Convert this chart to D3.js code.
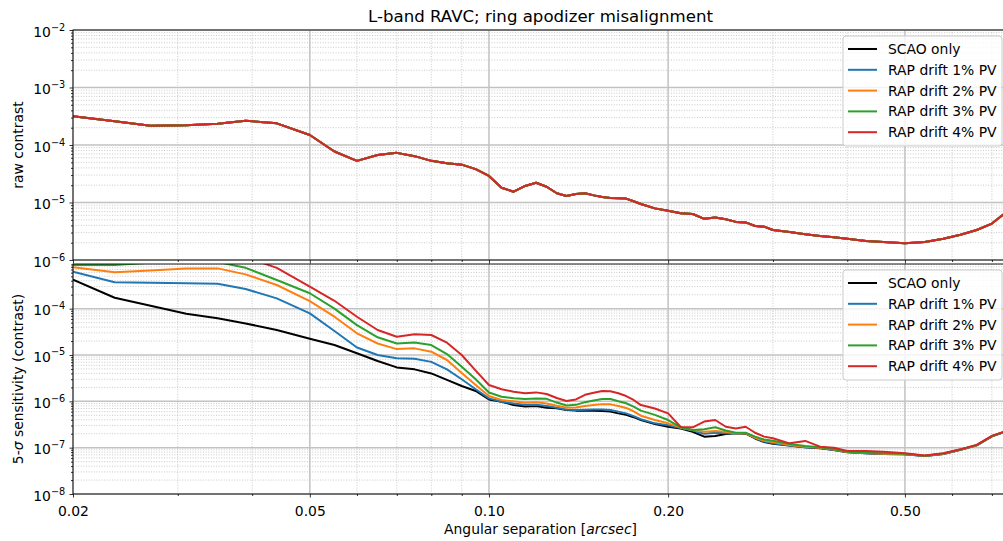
<!DOCTYPE html>
<html>
<head>
<meta charset="utf-8">
<script src="https://cdn.jsdelivr.net/npm/d3@7"></script>
<style>
  body { margin: 0; background: #fff; }
  svg { display: block; font-family: "DejaVu Sans", sans-serif; }
</style>
</head>
<body>
<svg id="chart" width="1003" height="541"></svg>
<script>
// Angular separation grid [arcsec]
const separation = [
  0.020, 0.0235, 0.027, 0.031, 0.035, 0.039, 0.044,
  0.050, 0.055, 0.060, 0.065, 0.070, 0.075, 0.080, 0.085, 0.090, 0.095,
  0.100, 0.105, 0.110, 0.115, 0.120, 0.125, 0.130, 0.135, 0.140, 0.145,
  0.150, 0.155, 0.160, 0.165, 0.170, 0.175, 0.180, 0.190, 0.200,
  0.210, 0.220, 0.230, 0.240, 0.250, 0.260, 0.270, 0.280, 0.290, 0.300,
  0.320, 0.340, 0.360, 0.380, 0.400, 0.430, 0.460,
  0.500, 0.540, 0.580, 0.620, 0.660, 0.700, 0.740
];

// Raw coronagraphic contrast (identical for every configuration)
const rawContrast = [
  3.15e-4, 2.6e-4, 2.17e-4, 2.2e-4, 2.34e-4, 2.65e-4, 2.38e-4,
  1.49e-4, 7.7e-5, 5.3e-5, 6.7e-5, 7.3e-5, 6.4e-5, 5.3e-5, 4.8e-5, 4.55e-5, 3.8e-5,
  2.9e-5, 1.81e-5, 1.54e-5, 1.94e-5, 2.21e-5, 1.88e-5, 1.45e-5, 1.30e-5, 1.41e-5, 1.45e-5,
  1.33e-5, 1.25e-5, 1.20e-5, 1.19e-5, 1.17e-5, 1.05e-5, 9.4e-6, 7.9e-6, 7.2e-6,
  6.5e-6, 6.3e-6, 5.2e-6, 5.5e-6, 5.1e-6, 4.6e-6, 4.5e-6, 3.9e-6, 3.8e-6, 3.33e-6,
  3.07e-6, 2.8e-6, 2.61e-6, 2.48e-6, 2.34e-6, 2.14e-6, 2.05e-6,
  1.95e-6, 2.05e-6, 2.34e-6, 2.75e-6, 3.33e-6, 4.3e-6, 6.8e-6
];

// 5-sigma sensitivity per configuration
const sensScao = [
  4.2e-4, 1.72e-4, 1.16e-4, 7.8e-5, 6.2e-5, 4.8e-5, 3.46e-5,
  2.25e-5, 1.64e-5, 1.09e-5, 7.4e-6, 5.4e-6, 4.9e-6, 4.0e-6, 2.9e-6, 2.14e-6, 1.67e-6,
  1.1e-6, 9.8e-7, 8.3e-7, 7.7e-7, 7.9e-7, 7.3e-7, 7.1e-7, 6.5e-7, 6.3e-7, 6.3e-7,
  6.3e-7, 6.2e-7, 6.0e-7, 5.5e-7, 5.1e-7, 4.55e-7, 3.95e-7, 3.25e-7, 2.83e-7,
  2.6e-7, 2.2e-7, 1.73e-7, 1.78e-7, 1.97e-7, 2.04e-7, 2.0e-7, 1.58e-7, 1.32e-7, 1.22e-7,
  1.12e-7, 1.02e-7, 9.7e-8, 8.9e-8, 8.0e-8, 7.55e-8, 7.3e-8,
  7.2e-8, 6.6e-8, 7.3e-8, 9.0e-8, 1.12e-7, 1.75e-7, 2.25e-7
];
const sensDrift1 = [
  6.3e-4, 3.7e-4, 3.63e-4, 3.55e-4, 3.45e-4, 2.65e-4, 1.67e-4,
  7.9e-5, 3.3e-5, 1.45e-5, 1.0e-5, 8.5e-6, 8.3e-6, 7.1e-6, 4.9e-6, 3.0e-6, 1.82e-6,
  1.16e-6, 9.8e-7, 9.0e-7, 8.3e-7, 8.4e-7, 7.9e-7, 7.3e-7, 6.6e-7, 6.5e-7, 6.6e-7,
  6.7e-7, 6.7e-7, 6.5e-7, 6.0e-7, 5.5e-7, 4.8e-7, 4.1e-7, 3.35e-7, 3.05e-7,
  2.65e-7, 2.35e-7, 2.0e-7, 2.1e-7, 2.04e-7, 2.04e-7, 2.04e-7, 1.6e-7, 1.35e-7, 1.24e-7,
  1.12e-7, 1.02e-7, 9.9e-8, 8.9e-8, 8.1e-8, 7.55e-8, 7.3e-8,
  7.2e-8, 6.6e-8, 7.3e-8, 9.0e-8, 1.12e-7, 1.75e-7, 2.25e-7
];
const sensDrift2 = [
  7.8e-4, 6.1e-4, 6.7e-4, 7.4e-4, 7.4e-4, 5.5e-4, 3.24e-4,
  1.45e-4, 6.7e-5, 2.94e-5, 1.77e-5, 1.34e-5, 1.39e-5, 1.18e-5, 7.8e-6, 4.1e-6, 2.25e-6,
  1.3e-6, 1.07e-6, 1.0e-6, 9.3e-7, 9.6e-7, 9.0e-7, 8.0e-7, 7.3e-7, 7.4e-7, 7.9e-7,
  8.3e-7, 8.7e-7, 8.6e-7, 7.9e-7, 7.2e-7, 6.1e-7, 4.9e-7, 3.95e-7, 3.35e-7,
  2.7e-7, 2.4e-7, 2.2e-7, 2.3e-7, 2.2e-7, 2.04e-7, 2.04e-7, 1.65e-7, 1.41e-7, 1.32e-7,
  1.14e-7, 1.05e-7, 9.9e-8, 9.1e-8, 8.1e-8, 7.7e-8, 7.4e-8,
  7.3e-8, 6.7e-8, 7.4e-8, 9.1e-8, 1.13e-7, 1.77e-7, 2.27e-7
];
const sensDrift3 = [
  8.8e-4, 8.8e-4, 9.8e-4, 1.05e-3, 1.02e-3, 7.6e-4, 4.15e-4,
  2.15e-4, 1.0e-4, 4.4e-5, 2.41e-5, 1.77e-5, 1.85e-5, 1.64e-5, 1.05e-5, 5.6e-6, 3.0e-6,
  1.55e-6, 1.26e-6, 1.16e-6, 1.12e-6, 1.15e-6, 1.13e-6, 9.4e-7, 8.1e-7, 8.4e-7, 9.6e-7,
  1.04e-6, 1.12e-6, 1.12e-6, 1.0e-6, 9.1e-7, 7.7e-7, 6.3e-7, 5.1e-7, 3.95e-7,
  2.75e-7, 2.4e-7, 2.5e-7, 2.75e-7, 2.35e-7, 2.1e-7, 2.1e-7, 1.73e-7, 1.5e-7, 1.41e-7,
  1.2e-7, 1.09e-7, 1.02e-7, 9.2e-8, 8.2e-8, 7.8e-8, 7.55e-8,
  7.4e-8, 6.7e-8, 7.45e-8, 9.1e-8, 1.14e-7, 1.78e-7, 2.28e-7
];
const sensDrift4 = [
  2.0e-3, 2.0e-3, 2.0e-3, 2.0e-3, 1.8e-3, 1.3e-3, 7.6e-4,
  3.0e-4, 1.48e-4, 6.7e-5, 3.46e-5, 2.48e-5, 2.79e-5, 2.7e-5, 1.84e-5, 1.0e-5, 4.6e-6,
  2.25e-6, 1.82e-6, 1.61e-6, 1.49e-6, 1.56e-6, 1.44e-6, 1.18e-6, 1.02e-6, 1.1e-6, 1.38e-6,
  1.53e-6, 1.67e-6, 1.65e-6, 1.49e-6, 1.3e-6, 1.07e-6, 8.3e-7, 7.0e-7, 5.5e-7,
  2.8e-7, 2.75e-7, 3.65e-7, 3.95e-7, 2.83e-7, 2.6e-7, 2.83e-7, 2.1e-7, 1.73e-7, 1.6e-7,
  1.24e-7, 1.4e-7, 1.05e-7, 1.0e-7, 8.5e-8, 8.5e-8, 8.2e-8,
  7.55e-8, 6.8e-8, 7.55e-8, 9.2e-8, 1.15e-7, 1.8e-7, 2.3e-7
];

const seriesNames = ["SCAO only", "RAP drift 1% PV", "RAP drift 2% PV", "RAP drift 3% PV", "RAP drift 4% PV"];
const seriesColors = ["#000000", "#1f77b4", "#ff7f0e", "#2ca02c", "#d62728"];
const rawSeries = [rawContrast, rawContrast, rawContrast, rawContrast, rawContrast];
const sensSeries = [sensScao, sensDrift1, sensDrift2, sensDrift3, sensDrift4];

const xTickValues = [0.02, 0.05, 0.1, 0.2, 0.5];
const xTickLabels = ["0.02", "0.05", "0.10", "0.20", "0.50"];
const rawTickExps = [-6, -5, -4, -3, -2];
const sensTickExps = [-8, -7, -6, -5, -4];

const titleText = "L-band RAVC; ring apodizer misalignment";

// ---------------------------------------------------------------------------
const svg = d3.select("#chart");
const plotLeft = 73, plotRight = 1008;
const FS = 13.9;

const x = d3.scaleLog().domain([0.02, 0.745]).range([plotLeft, plotRight]);
const yRaw = d3.scaleLog().domain([1e-6, 1e-2]).range([260, 30]);
const ySens = d3.scaleLog().domain([1e-8, 9.2e-4]).range([494, 264]);

const isClose = (a, b) => Math.abs(a / b - 1) < 1e-6;

function minorValues(lo, hi, exclude) {
  const out = [];
  for (let e = Math.floor(Math.log10(lo)) - 1; e <= Math.ceil(Math.log10(hi)); e++) {
    for (let k = 2; k <= 9; k++) {
      const v = k * Math.pow(10, e);
      if (v > lo * 1.0001 && v < hi * 0.9999 && !exclude.some(t => isClose(t, v))) out.push(v);
    }
  }
  return out;
}

const xMinor = minorValues(0.02, 0.745, xTickValues);
const xMajorGrid = xTickValues;

function drawPanel(y, exps, series, showXLabels, clipId) {
  const [yb, yt] = y.range();
  const g = svg.append("g");
  const [lo, hi] = y.domain();

  // minor gridlines (dotted)
  const grid = g.append("g");
  const yMinor = minorValues(lo, hi, []);
  grid.selectAll(".ymin").data(yMinor).join("line")
    .attr("x1", plotLeft).attr("x2", plotRight)
    .attr("y1", d => y(d)).attr("y2", d => y(d))
    .attr("stroke", "#bdbdbd").attr("stroke-width", 0.8).attr("stroke-dasharray", "1,1.6");
  grid.selectAll(".xmin").data(xMinor).join("line")
    .attr("x1", d => x(d)).attr("x2", d => x(d))
    .attr("y1", yt).attr("y2", yb)
    .attr("stroke", "#bdbdbd").attr("stroke-width", 0.8).attr("stroke-dasharray", "1,1.6");

  // major gridlines (solid)
  const yMajor = d3.range(Math.ceil(Math.log10(lo)), Math.floor(Math.log10(hi)) + 1).map(e => Math.pow(10, e));
  grid.selectAll(".ymaj").data(yMajor).join("line")
    .attr("x1", plotLeft).attr("x2", plotRight)
    .attr("y1", d => y(d)).attr("y2", d => y(d))
    .attr("stroke", "#c2c2c2").attr("stroke-width", 1.5);
  grid.selectAll(".xmaj").data(xMajorGrid).join("line")
    .attr("x1", d => x(d)).attr("x2", d => x(d))
    .attr("y1", yt).attr("y2", yb)
    .attr("stroke", "#c2c2c2").attr("stroke-width", 1.5);

  // curves
  svg.append("clipPath").attr("id", clipId).append("rect")
    .attr("x", plotLeft).attr("y", yt).attr("width", plotRight - plotLeft).attr("height", yb - yt);
  const line = d3.line().x(d => x(d[0])).y(d => y(d[1]));
  g.append("g").attr("clip-path", `url(#${clipId})`)
    .selectAll("path").data(series).join("path")
    .attr("d", vals => line(separation.map((s, i) => [s, vals[i]])))
    .attr("fill", "none")
    .attr("stroke", (d, i) => seriesColors[i])
    .attr("stroke-width", 2)
    .attr("stroke-linejoin", "round")
    .attr("stroke-linecap", "square");

  // spines
  g.append("rect").attr("x", plotLeft).attr("y", yt)
    .attr("width", plotRight - plotLeft).attr("height", yb - yt)
    .attr("fill", "none").attr("stroke", "#000").attr("stroke-width", 0.9);

  // x axis ticks
  const xAxis = d3.axisBottom(x).tickValues(xTickValues).tickSize(3.5).tickSizeOuter(0).tickPadding(8.3)
    .tickFormat((d, i) => showXLabels ? xTickLabels[i] : "");
  const xg = g.append("g").attr("transform", `translate(0,${yb})`).call(xAxis);
  const xMinorAxis = d3.axisBottom(x).tickValues(xMinor).tickSize(2).tickSizeOuter(0).tickFormat("");
  const xmg = g.append("g").attr("transform", `translate(0,${yb})`).call(xMinorAxis);

  // y axis ticks
  const yAxis = d3.axisLeft(y).tickValues(exps.map(e => Math.pow(10, e))).tickSize(3.5).tickSizeOuter(0).tickFormat("");
  const yg = g.append("g").attr("transform", `translate(${plotLeft},0)`).call(yAxis);
  const yMinorAxis = d3.axisLeft(y).tickValues(yMinor).tickSize(2).tickSizeOuter(0).tickFormat("");
  const ymg = g.append("g").attr("transform", `translate(${plotLeft},0)`).call(yMinorAxis);

  [xg, xmg, yg, ymg].forEach(a => {
    a.select(".domain").remove();
    a.selectAll(".tick line").attr("stroke", "#000").attr("stroke-width", 0.8);
  });
  xg.selectAll(".tick text").attr("font-size", FS).attr("fill", "#000")
    .attr("font-family", "DejaVu Sans, sans-serif");

  // y tick labels as powers of ten
  yg.selectAll(".tick").each(function (d, i) {
    const t = d3.select(this).append("text")
      .attr("x", -7.8).attr("y", 6.3)
      .attr("text-anchor", "end").attr("fill", "#000")
      .attr("font-size", FS).attr("font-family", "DejaVu Sans, sans-serif");
    t.append("tspan").text("10");
    t.append("tspan").attr("dy", -6.3).attr("font-size", FS * 0.7).text("\u2212" + Math.abs(exps[i]));
  });

  // legend
  const lgX = plotRight - 165, lgY = yt + 6, lgW = 159, lgH = 110;
  const lg = g.append("g");
  lg.append("rect").attr("x", lgX).attr("y", lgY).attr("width", lgW).attr("height", lgH)
    .attr("rx", 3).attr("fill", "rgba(255,255,255,0.8)").attr("stroke", "#cccccc").attr("stroke-width", 1);
  seriesNames.forEach((name, i) => {
    const cy = lgY + 13 + i * 20.8;
    lg.append("line").attr("x1", lgX + 5).attr("x2", lgX + 34).attr("y1", cy).attr("y2", cy)
      .attr("stroke", seriesColors[i]).attr("stroke-width", 2);
    lg.append("text").attr("x", lgX + 45).attr("y", cy).attr("dy", "0.36em")
      .attr("font-size", FS).attr("fill", "#000").text(name);
  });
  return g;
}

drawPanel(yRaw, rawTickExps, rawSeries, false, "clipRaw");
drawPanel(ySens, sensTickExps, sensSeries, true, "clipSens");

// title
svg.append("text").attr("x", (plotLeft + plotRight) / 2).attr("y", 21.5)
  .attr("text-anchor", "middle").attr("font-size", 16.6).attr("fill", "#000").text(titleText);

// axis labels
svg.append("text").attr("transform", `translate(23,145) rotate(-90)`)
  .attr("text-anchor", "middle").attr("font-size", FS).attr("fill", "#000").text("raw contrast");

const sensLabel = svg.append("text").attr("transform", `translate(23,379) rotate(-90)`)
  .attr("text-anchor", "middle").attr("font-size", FS).attr("fill", "#000");
sensLabel.append("tspan").text("5-");
sensLabel.append("tspan").attr("font-style", "italic").text("\u03c3");
sensLabel.append("tspan").text(" sensitivity (contrast)");

const xLabel = svg.append("text").attr("x", (plotLeft + plotRight) / 2).attr("y", 533.5)
  .attr("text-anchor", "middle").attr("font-size", FS).attr("fill", "#000");
xLabel.append("tspan").text("Angular separation [");
xLabel.append("tspan").attr("font-style", "italic").text("arcsec");
xLabel.append("tspan").text("]");
</script>
</body>
</html>
